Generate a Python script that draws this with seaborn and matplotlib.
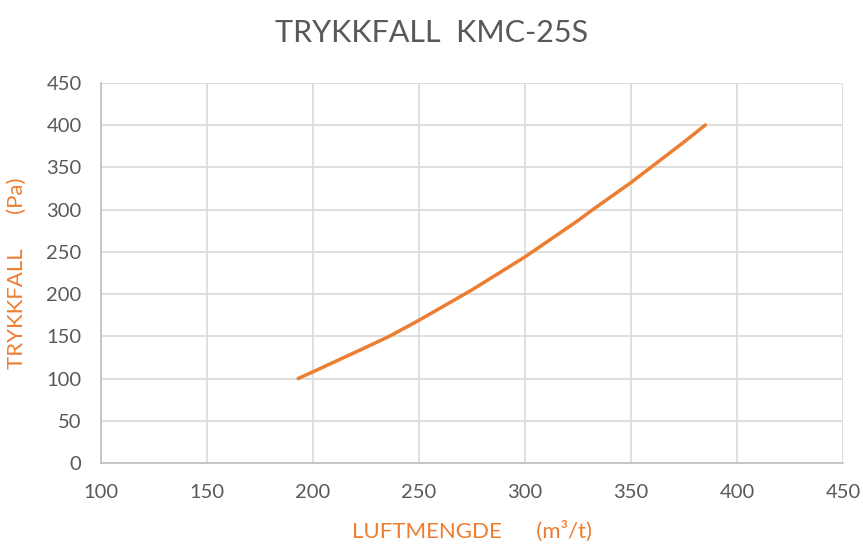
import pandas as pd
import matplotlib.pyplot as plt
import seaborn as sns

# values
airflow = [193, 200, 225, 236, 250, 275, 300, 325, 332, 350, 375, 385]
pressure_drop = [100, 108, 137, 150, 169, 205, 244, 287, 300, 332, 380, 400]
x_ticks = [100, 150, 200, 250, 300, 350, 400, 450]
y_ticks = [0, 50, 100, 150, 200, 250, 300, 350, 400, 450]

df = pd.DataFrame({'airflow': airflow, 'pressure_drop': pressure_drop})

sns.set_style('whitegrid')
plt.rcParams['font.family'] = ['Lato', 'DejaVu Sans']

orange = '#ED7D31'
grey_text = '#595959'
grid_col = '#D9D9D9'

fig = plt.figure(figsize=(8.63, 5.48), dpi=100)
ax = fig.add_axes([0.117, 0.155, 0.860, 0.694])

sns.lineplot(data=df, x='airflow', y='pressure_drop', color=orange,
             linewidth=2.5, ax=ax, solid_capstyle='round')

ax.set_xlim(100, 450)
ax.set_ylim(0, 450)
ax.set_xticks(x_ticks)
ax.set_yticks(y_ticks)
ax.tick_params(axis='both', labelsize=14.5, colors=grey_text, length=0)
ax.tick_params(axis='x', pad=15)
ax.tick_params(axis='y', pad=14)
ax.grid(True, color=grid_col, linewidth=1.2)

for side in ['top', 'right']:
    ax.spines[side].set_visible(False)
for side in ['left', 'bottom']:
    ax.spines[side].set_color('#BFBFBF')
    ax.spines[side].set_linewidth(1.2)

ax.set_xlabel('LUFTMENGDE      (m³/t)', fontsize=16, color=orange, labelpad=14)
ax.set_ylabel('TRYKKFALL      (Pa)', fontsize=16, color=orange, labelpad=14)
fig.suptitle('TRYKKFALL  KMC-25S', fontsize=22, color=grey_text, y=0.965)

fig.savefig('out.png', dpi=100)
